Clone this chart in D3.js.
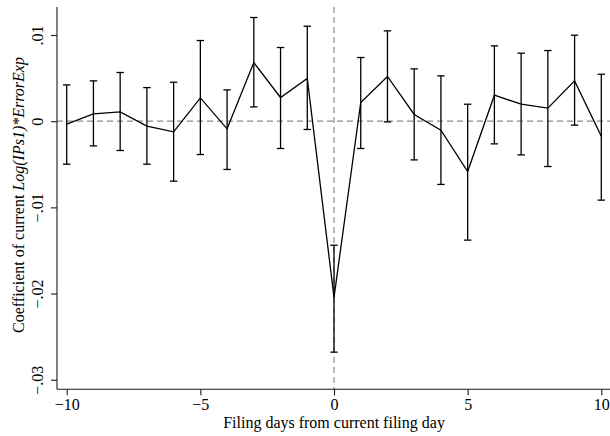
<!DOCTYPE html>
<html>
<head>
<meta charset="utf-8">
<script src="https://cdn.jsdelivr.net/npm/d3@7"></script>
<style>
    body { margin: 0; background: #fff; }
    text { font-family: "Liberation Serif", "Times New Roman", serif; }
</style>
</head>
<body>
<script>
//anonymous function to keep everything local
(function(){

    //filing days relative to current filing day
    var days = [-10, -9, -8, -7, -6, -5, -4, -3, -2, -1, 0, 1, 2, 3, 4, 5, 6, 7, 8, 9, 10];
    //point estimates
    var coef = [-0.00035, 0.00085, 0.00108, -0.00058, -0.00124, 0.0027, -0.00089, 0.0068, 0.00275, 0.00495,
        -0.02045, 0.00217, 0.00519, 0.00078, -0.00104, -0.00584, 0.00302, 0.00197, 0.00151, 0.00468, -0.00174];
    //upper confidence bounds
    var upper = [0.00421, 0.00468, 0.00565, 0.0039, 0.00452, 0.00936, 0.00363, 0.01203, 0.00855, 0.01102,
        -0.01439, 0.00739, 0.01048, 0.00607, 0.00526, 0.00197, 0.00874, 0.00789, 0.0082, 0.00998, 0.00545];
    //lower confidence bounds
    var lower = [-0.00499, -0.00287, -0.0034, -0.00499, -0.00696, -0.00387, -0.0056, 0.00166, -0.00317, -0.00096,
        -0.0268, -0.00317, -0.00008, -0.00449, -0.00734, -0.0138, -0.00263, -0.00391, -0.00526, -0.00046, -0.00916];

    //tick values and labels
    var xTicks = [-10, -5, 0, 5, 10];
    var xTickLabels = ["\u221210", "\u22125", "0", "5", "10"];
    var yTicks = [0.01, 0, -0.01, -0.02, -0.03];
    var yTickLabels = [".01", "0", "\u2212.01", "\u2212.02", "\u2212.03"];

    var width = 610,
        height = 436,
        fontSize = 16;

    var svg = d3.select("body")
        .append("svg")
        .attr("width", width)
        .attr("height", height);

    //scales
    var x = d3.scaleLinear().domain([-10.363, 10.325]).range([57, 610]);
    var y = d3.scaleLinear().domain([-0.03111, 0.01325]).range([389.3, 7]);

    //build rows for the join
    var rows = days.map(function(d, i){
        return { day: d, b: coef[i], hi: upper[i], lo: lower[i] };
    });

    //dashed reference lines
    svg.append("line")
        .attr("x1", x(-10.363)).attr("x2", x(10.325))
        .attr("y1", y(0)).attr("y2", y(0))
        .attr("stroke", "#8c8c8c").attr("stroke-width", 1.2)
        .attr("stroke-dasharray", "6,4");
    svg.append("line")
        .attr("x1", x(0)).attr("x2", x(0))
        .attr("y1", y(0.01325)).attr("y2", y(-0.03111))
        .attr("stroke", "#8c8c8c").attr("stroke-width", 1.2)
        .attr("stroke-dasharray", "6,4");

    //error bars
    var bars = svg.selectAll(".bar")
        .data(rows)
        .enter()
        .append("g")
        .attr("class", "bar")
        .attr("stroke", "#000")
        .attr("stroke-width", 1.3);
    bars.append("line")
        .attr("x1", function(d){ return x(d.day); })
        .attr("x2", function(d){ return x(d.day); })
        .attr("y1", function(d){ return y(d.hi); })
        .attr("y2", function(d){ return y(d.lo); });
    bars.append("line")
        .attr("x1", function(d){ return x(d.day) - 3.7; })
        .attr("x2", function(d){ return x(d.day) + 3.7; })
        .attr("y1", function(d){ return y(d.hi); })
        .attr("y2", function(d){ return y(d.hi); });
    bars.append("line")
        .attr("x1", function(d){ return x(d.day) - 3.7; })
        .attr("x2", function(d){ return x(d.day) + 3.7; })
        .attr("y1", function(d){ return y(d.lo); })
        .attr("y2", function(d){ return y(d.lo); });

    //coefficient line
    var line = d3.line()
        .x(function(d){ return x(d.day); })
        .y(function(d){ return y(d.b); });
    svg.append("path")
        .datum(rows)
        .attr("d", line)
        .attr("fill", "none")
        .attr("stroke", "#000")
        .attr("stroke-width", 1.3)
        .attr("stroke-linejoin", "miter");

    //x axis
    var xAxis = d3.axisBottom(x)
        .tickValues(xTicks)
        .tickSize(6)
        .tickFormat(function(d, i){ return xTickLabels[i]; });
    var xg = svg.append("g")
        .attr("transform", "translate(0,389.3)")
        .call(xAxis);
    xg.select(".domain").attr("d", "M57,0H610");

    //y axis
    var yAxis = d3.axisLeft(y)
        .tickValues(yTicks)
        .tickSize(6)
        .tickFormat(function(d, i){ return yTickLabels[i]; });
    var yg = svg.append("g")
        .attr("transform", "translate(57,0)")
        .call(yAxis);
    yg.select(".domain").attr("d", "M0,7V389.3");

    //axis styling
    svg.selectAll(".domain, .tick line")
        .attr("stroke", "#1a1a1a")
        .attr("stroke-width", 1.1);
    xg.selectAll(".tick text")
        .attr("fill", "#000")
        .attr("font-size", fontSize)
        .attr("y", 9)
        .attr("dy", "0.71em");
    yg.selectAll(".tick text")
        .attr("fill", "#000")
        .attr("font-size", fontSize)
        .attr("x", null)
        .attr("dy", null)
        .attr("text-anchor", "middle")
        .attr("transform", "translate(-14,0) rotate(-90)");

    //axis titles
    svg.append("text")
        .attr("x", x(0))
        .attr("y", 428)
        .attr("text-anchor", "middle")
        .attr("font-size", fontSize)
        .text("Filing days from current filing day");

    var yTitle = svg.append("text")
        .attr("text-anchor", "middle")
        .attr("font-size", fontSize)
        .attr("transform", "translate(24,195) rotate(-90)");
    yTitle.append("tspan").text("Coefficient of current ");
    yTitle.append("tspan").attr("font-style", "italic").text("Log(IPs1)*ErrorExp");

})();
</script>
</body>
</html>
